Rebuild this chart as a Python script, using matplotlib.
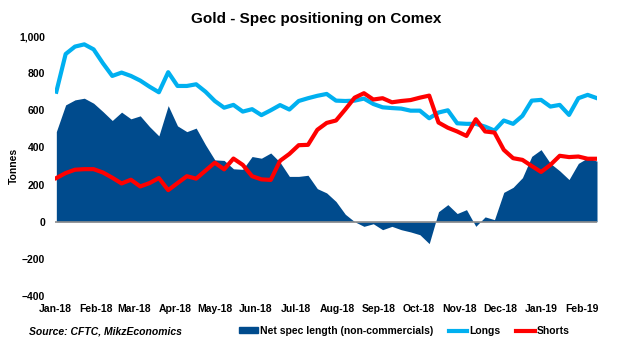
import numpy as np
import matplotlib
matplotlib.use("Agg")
import matplotlib.pyplot as plt
import matplotlib.dates as mdates
from matplotlib.ticker import StrMethodFormatter
from matplotlib.patches import Patch
from matplotlib.lines import Line2D
import pandas as pd

plt.rcParams["font.family"] = ["Liberation Sans", "DejaVu Sans"]
plt.rcParams["font.weight"] = "bold"

# weekly CFTC reports, tonnes
weeks = pd.date_range("2018-01-02", periods=59, freq="7D")

net_spec = [485, 629, 656, 665, 638, 593, 545, 590, 554, 570, 512, 462,
            625, 516, 485, 504, 414, 333, 330, 285, 282, 351, 342, 370,
            320, 244, 244, 250, 178, 155, 109, 40, 0, -25, -11, -43,
            -25, -43, -55, -70, -118, 54, 92, 44, 65, -25, 26, 11,
            158, 185, 237, 352, 388, 314, 274, 227, 314, 344, 326]

longs = [700, 903, 943, 955, 928, 853, 785, 803, 785, 760, 727, 697,
         805, 731, 731, 740, 700, 650, 614, 629, 593, 606, 574, 600,
         628, 604, 650, 665, 678, 688, 652, 650, 652, 663, 634, 616,
         612, 609, 598, 598, 557, 588, 600, 530, 527, 527, 512, 491,
         545, 527, 570, 652, 656, 620, 629, 575, 665, 683, 665]

shorts = [235, 262, 280, 283, 283, 265, 237, 206, 226, 190, 208, 235,
          170, 208, 245, 232, 275, 318, 282, 340, 306, 245, 228, 225,
          328, 365, 412, 414, 495, 532, 545, 605, 668, 692, 658, 665,
          643, 650, 655, 668, 679, 534, 506, 486, 462, 552, 486, 480,
          387, 342, 333, 300, 268, 306, 355, 348, 351, 339, 339]

y_ticks = [-400, -200, 0, 200, 400, 600, 800, 1000]

c_net = "#004B8D"
c_long = "#00B0F0"
c_short = "#FF0000"

fig = plt.figure(figsize=(6.24, 3.41), dpi=100)
ax = fig.add_axes([55 / 624, 1 - 296 / 341, 542 / 624, 260 / 341])

ax.fill_between(weeks, net_spec, 0, color=c_net, lw=0, zorder=1)
ax.axhline(0, color="#8c8c8c", lw=1.2, zorder=2)
ax.plot(weeks, longs, color=c_long, lw=3, zorder=3)
ax.plot(weeks, shorts, color=c_short, lw=3, zorder=4)

ax.set_xlim(pd.Timestamp("2018-01-01"), weeks[-1])
ax.set_ylim(-400, 1000)
ax.set_yticks(y_ticks)
ax.yaxis.set_major_formatter(StrMethodFormatter("{x:,.0f}"))
ax.xaxis.set_major_locator(mdates.MonthLocator())
ax.xaxis.set_major_formatter(mdates.DateFormatter("%b-%y"))
ax.tick_params(axis="both", length=0, labelsize=7.5)
ax.tick_params(axis="y", pad=7)
ax.tick_params(axis="x", pad=6)
for s in ax.spines.values():
    s.set_visible(False)

ax.set_ylabel("Tonnes", fontsize=7.5, fontweight="bold")
ax.yaxis.set_label_coords(-0.066, 0.5)

fig.text(0.506, 1 - 19 / 341, "Gold - Spec positioning on Comex",
         ha="center", va="center", fontsize=11, fontweight="bold")
fig.text(29 / 624, 1 - 331 / 341, "Source: CFTC, MikzEconomics",
         ha="left", va="center", fontsize=7.5, fontweight="bold", style="italic")

handles = [Patch(color=c_net), Line2D([], [], color=c_long, lw=3),
           Line2D([], [], color=c_short, lw=3)]
labels = ["Net spec length (non-commercials)", "Longs", "Shorts"]
fig.legend(handles, labels, loc="center", bbox_to_anchor=(0.648, 1 - 331 / 341),
           ncol=3, frameon=False, fontsize=7.5, handlelength=1.8,
           handleheight=0.5, handletextpad=0.2, columnspacing=1.5,
           borderpad=0, borderaxespad=0)

fig.savefig("out.png", dpi=100)
